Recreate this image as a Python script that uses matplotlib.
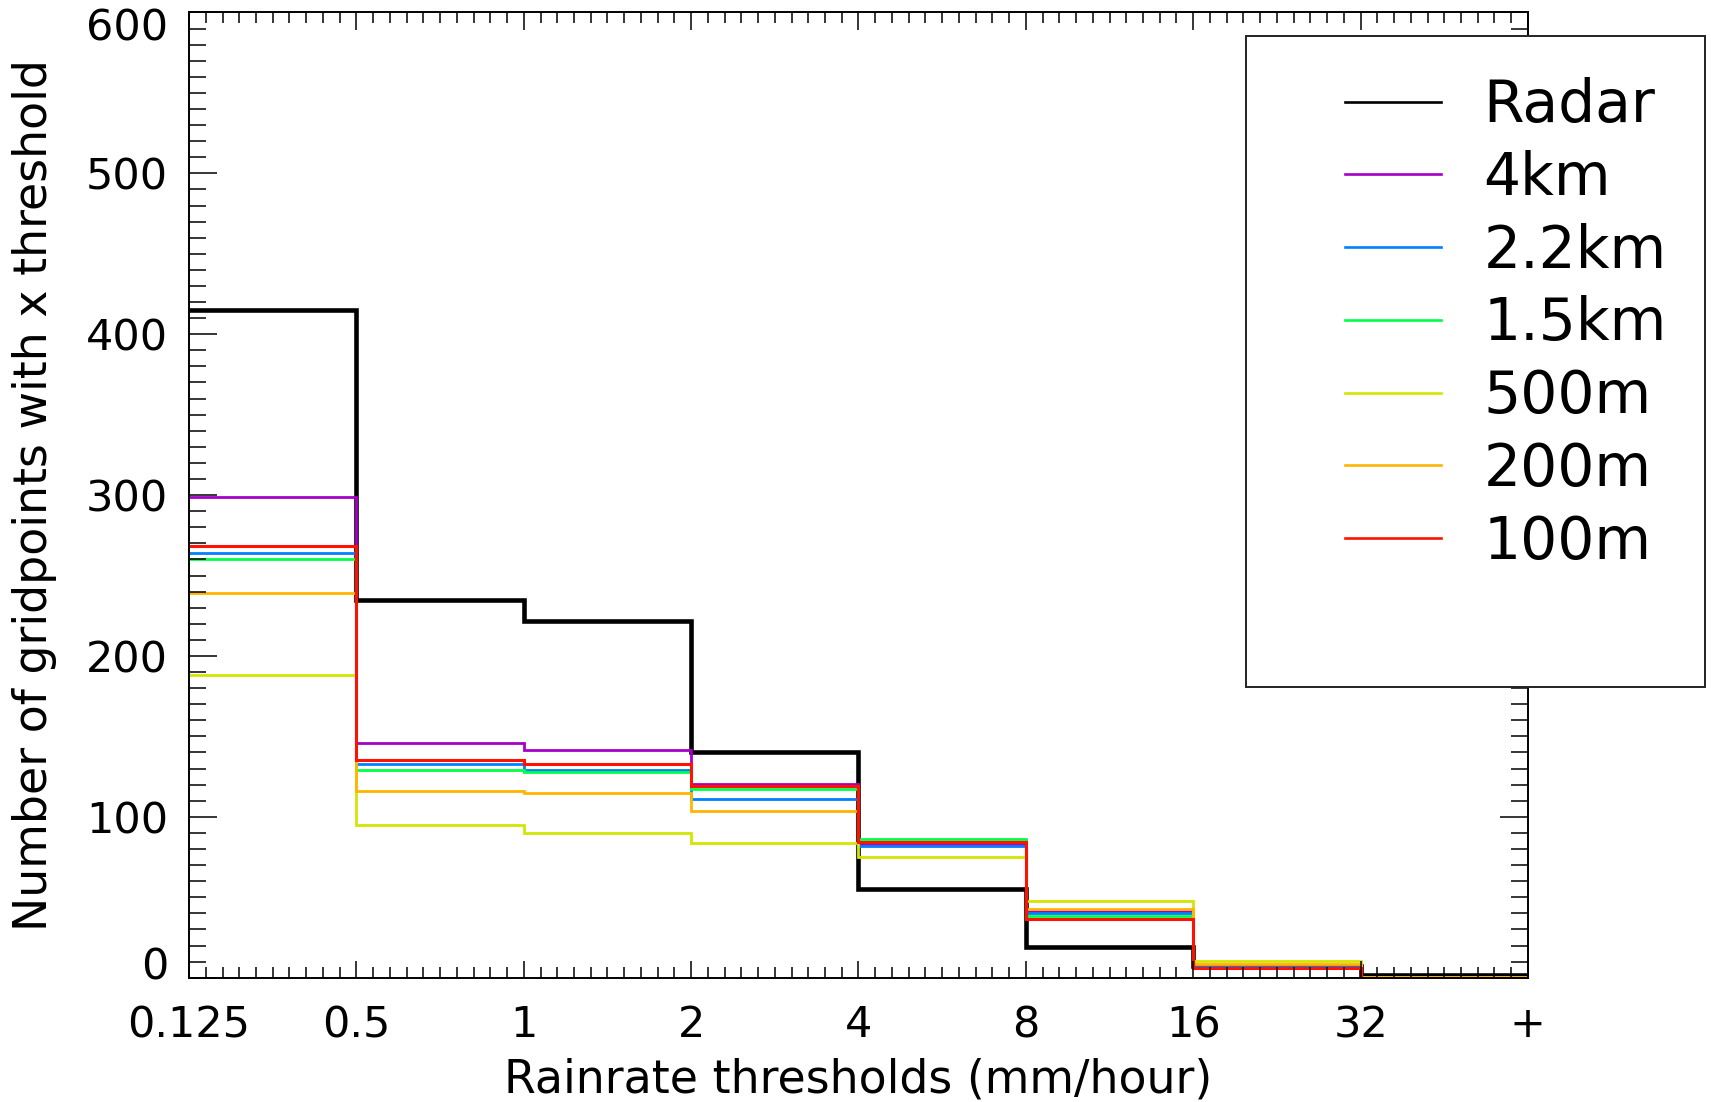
import numpy as np
import matplotlib
matplotlib.use("Agg")
import matplotlib.pyplot as plt
from matplotlib.patches import Rectangle
from matplotlib.lines import Line2D
from matplotlib.ticker import MultipleLocator
from matplotlib.transforms import ScaledTranslation

# threshold bins (equally spaced categories)
tick_labels = ["0.125", "0.5", "1", "2", "4", "8", "16", "32", "+"]

# number of gridpoints above each threshold
radar = [415, 235, 221.5, 140.4, 54.9, 19.3, 7.5, 1.5]
km4 = [299, 145.8, 141.4, 120.7, 83, 41.6, 7, 0]
km22 = [264, 132.7, 129.4, 111.2, 81.8, 40, 6.5, 0]
km15 = [260, 129.4, 128, 117.4, 86, 38.3, 6.3, 0]
m500 = [188, 94.8, 90, 83.9, 75.2, 47.8, 10.6, 0.5]
m200 = [239, 116.1, 114.5, 103.7, 84.5, 42.9, 8.5, 0.3]
m100 = [268.5, 135.6, 132.7, 119, 84.1, 36.3, 5.8, 0]

names = ["Radar", "4km", "2.2km", "1.5km", "500m", "200m", "100m"]
series = [radar, km4, km22, km15, m500, m200, m100]
colours = ["black", "#A500C8", "#0080FF", "#00FF48", "#D2E600", "#FFB400", "#FF1200"]
widths = [3.3, 2.0, 2.0, 2.0, 2.0, 2.0, 2.2]

plt.rcParams["font.family"] = "DejaVu Sans"

fig = plt.figure(figsize=(17.11, 11.02), dpi=100)
ax = fig.add_axes([0.1105, 0.1128, 0.7825, 0.8759])

edges = np.arange(len(tick_labels))
for vals, name, col, lw in zip(series, names, colours, widths):
    st = ax.stairs(vals, edges, baseline=None, color=col, linewidth=lw, label=name)
    st.set_joinstyle("miter")

ax.set_xlim(0, len(tick_labels) - 1)
ax.set_ylim(0, 600)
ax.set_xticks(edges)
ax.set_xticklabels(tick_labels)
ax.set_yticks(np.arange(0, 601, 100))
ax.xaxis.set_minor_locator(MultipleLocator(0.1))
ax.yaxis.set_minor_locator(MultipleLocator(10))

ax.tick_params(axis="both", which="both", direction="in", top=True, right=True, width=1.1, labelsize=31)
ax.tick_params(axis="y", which="major", length=20, pad=15)
ax.tick_params(axis="y", which="minor", length=12)
ax.tick_params(axis="x", which="major", length=12.6, pad=19)
ax.tick_params(axis="x", which="minor", length=7.7)
for sp in ax.spines.values():
    sp.set_linewidth(1.4)

# end labels sit a bit inward like in the original
labs = ax.get_yticklabels()
labs[0].set_transform(labs[0].get_transform() + ScaledTranslation(0, 0.15, fig.dpi_scale_trans))
labs[-1].set_transform(labs[-1].get_transform() + ScaledTranslation(0, -0.12, fig.dpi_scale_trans))

ax.set_xlabel("Rainrate thresholds (mm/hour)", fontsize=33)
ax.set_ylabel("Number of gridpoints with x threshold", fontsize=33)
ax.xaxis.set_label_coords(0.5, -0.083)
ax.yaxis.set_label_coords(-0.099, 0.5)

# legend box
box = Rectangle((0.7282, 0.3766), 0.2683, 0.5907, transform=fig.transFigure,
                facecolor="white", edgecolor="#222222", linewidth=1.4, zorder=4)
fig.add_artist(box)

leg_lines = [Line2D([], [], color=c, linewidth=1.9) for c in colours]
leg = fig.legend(leg_lines, names, loc="upper left", bbox_to_anchor=(0.7861, 0.9300),
                 frameon=False, fontsize=42, borderpad=0, borderaxespad=0,
                 handlelength=1.65, handletextpad=0.72, labelspacing=0.27)
leg.set_zorder(6)

fig.savefig("out.png", dpi=100)
